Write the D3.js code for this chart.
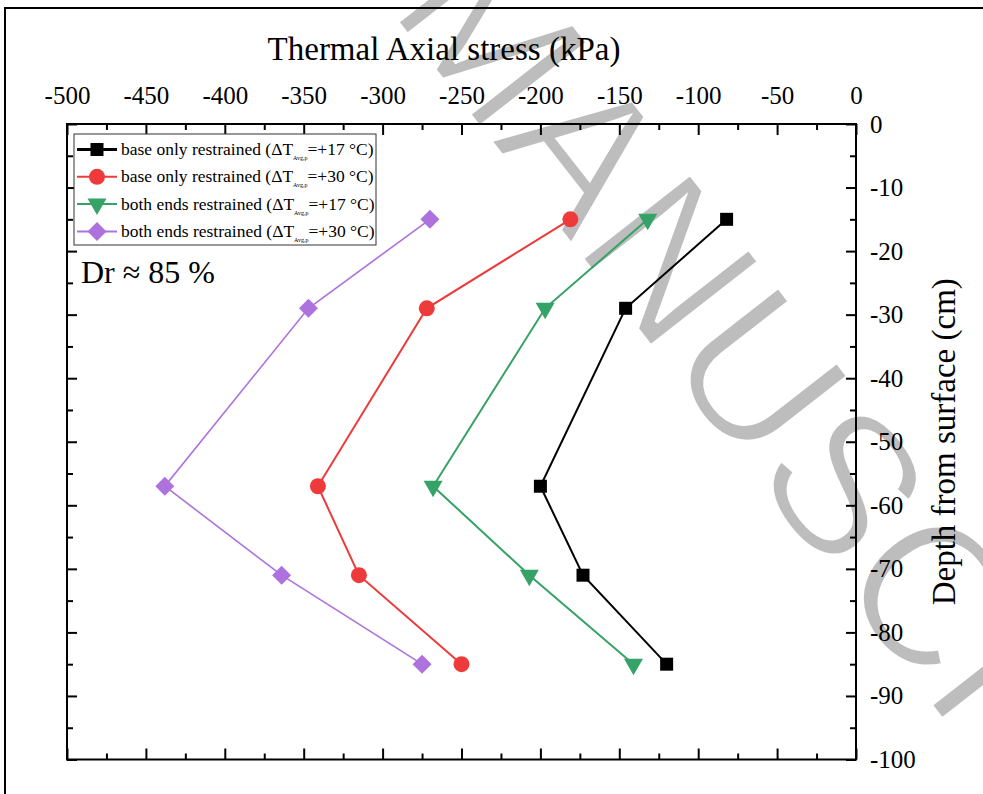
<!DOCTYPE html>
<html>
<head>
<meta charset="utf-8">
<script src="https://cdn.jsdelivr.net/npm/d3@7"></script>
<style>
  html, body { margin: 0; padding: 0; background: #fff; }
  svg { display: block; }
  text { font-family: "Liberation Serif", "Times New Roman", serif; fill: #000; }
</style>
</head>
<body>
<svg id="chart" width="983" height="794"></svg>
<script>
// Depth of each gauge below the surface (cm)
const depths = [-15, -29, -57, -71, -85];

// Thermal axial stress (kPa) at each depth
const baseOnly17 = [-82, -146, -200, -173, -120];
const baseOnly30 = [-181, -272, -341, -315, -250];
const bothEnds17 = [-132, -197, -268, -207, -141];
const bothEnds30 = [-270, -347, -438, -364, -275];

const seriesLabels = [
  ["base only restrained (ΔT", "=+17 °C)"],
  ["base only restrained (ΔT", "=+30 °C)"],
  ["both ends restrained (ΔT", "=+17 °C)"],
  ["both ends restrained (ΔT", "=+30 °C)"]
];
const seriesColors = ["#000000", "#ee3a3a", "#35a267", "#ad72de"];

const xTicks = d3.range(-500, 1, 50);
const yTicks = d3.range(0, -101, -10);

const svg = d3.select("#chart");

// Watermark lettering behind the plot (white outline thins the glyph strokes)
svg.append("g").attr("transform", "translate(387,9) rotate(52)")
  .append("text")
  .attr("x", 0).attr("y", 0)
  .style("font-family", "'Liberation Sans', Arial, sans-serif")
  .style("font-size", "200px")
  .style("fill", "#bdbdbd")
  .style("stroke", "#fff")
  .style("stroke-width", "4px")
  .text("MANUSCRIPT");

// Outer figure border
svg.append("rect")
  .attr("x", 5).attr("y", 8).attr("width", 1100).attr("height", 1100)
  .attr("fill", "none").attr("stroke", "#000").attr("stroke-width", 2);

const x = d3.scaleLinear().domain([-500, 0]).range([67, 856]);
const y = d3.scaleLinear().domain([0, -100]).range([124, 759.5]);

const plotLeft = x.range()[0], plotRight = x.range()[1];
const plotTop = y.range()[0], plotBottom = y.range()[1];

const plainNum = d => String(d);

function styleAxis(g) {
  g.select(".domain").remove();
  g.selectAll(".tick line").attr("stroke", "#000").attr("stroke-width", 2);
  g.selectAll(".tick text")
    .style("font-family", "'Liberation Serif', 'Times New Roman', serif")
    .style("font-size", "25px")
    .attr("fill", "#000");
}

const xMinor = d3.range(-475, 0, 50);
const yMinor = d3.range(-5, -100, -10);

// Top axis: labels and inward ticks
svg.append("g").attr("transform", `translate(0,${plotTop})`)
  .call(d3.axisTop(x).tickValues(xTicks).tickSize(-11).tickPadding(20).tickFormat(plainNum))
  .call(styleAxis);
svg.append("g").attr("transform", `translate(0,${plotTop})`)
  .call(d3.axisTop(x).tickValues(xMinor).tickSize(-6).tickFormat(""))
  .call(styleAxis);

// Bottom axis: ticks only
svg.append("g").attr("transform", `translate(0,${plotBottom})`)
  .call(d3.axisBottom(x).tickValues(xTicks).tickSize(-11).tickFormat(""))
  .call(styleAxis);
svg.append("g").attr("transform", `translate(0,${plotBottom})`)
  .call(d3.axisBottom(x).tickValues(xMinor).tickSize(-6).tickFormat(""))
  .call(styleAxis);

// Right axis: labels and inward ticks
svg.append("g").attr("transform", `translate(${plotRight},0)`)
  .call(d3.axisRight(y).tickValues(yTicks).tickSize(-10).tickPadding(14).tickFormat(plainNum))
  .call(styleAxis);
svg.append("g").attr("transform", `translate(${plotRight},0)`)
  .call(d3.axisRight(y).tickValues(yMinor).tickSize(-6).tickFormat(""))
  .call(styleAxis);

// Left axis: ticks only
svg.append("g").attr("transform", `translate(${plotLeft},0)`)
  .call(d3.axisLeft(y).tickValues(yTicks).tickSize(-10).tickFormat(""))
  .call(styleAxis);
svg.append("g").attr("transform", `translate(${plotLeft},0)`)
  .call(d3.axisLeft(y).tickValues(yMinor).tickSize(-6).tickFormat(""))
  .call(styleAxis);

// Plot frame
svg.append("rect")
  .attr("x", plotLeft).attr("y", plotTop)
  .attr("width", plotRight - plotLeft).attr("height", plotBottom - plotTop)
  .attr("fill", "none").attr("stroke", "#000").attr("stroke-width", 2);

// Axis titles
svg.append("text")
  .attr("x", 444).attr("y", 60)
  .attr("text-anchor", "middle")
  .style("font-size", "33px")
  .text("Thermal Axial stress (kPa)");

svg.append("text")
  .attr("transform", `translate(955,${(plotTop + plotBottom) / 2}) rotate(-90)`)
  .attr("text-anchor", "middle")
  .style("font-size", "33px")
  .text("Depth from surface (cm)");

// Marker shapes: square, circle, down-pointing triangle, diamond
const markers = [
  { type: d3.symbolSquare, size: 169, rot: 0 },
  { type: d3.symbolCircle, size: 200, rot: 0 },
  { type: d3.symbolTriangle, size: 156, rot: 180 },
  { type: d3.symbolSquare, size: 180, rot: 45 }
];

const allSeries = [baseOnly17, baseOnly30, bothEnds17, bothEnds30];
const line = d3.line().x(d => x(d[0])).y(d => y(d[1]));

allSeries.forEach((vals, i) => {
  const pts = vals.map((v, j) => [v, depths[j]]);
  svg.append("path")
    .datum(pts)
    .attr("d", line)
    .attr("fill", "none")
    .attr("stroke", seriesColors[i])
    .attr("stroke-width", i === 3 ? 1.6 : 2);
  const m = markers[i];
  const sym = d3.symbol().type(m.type).size(m.size);
  svg.append("g").selectAll("path")
    .data(pts)
    .join("path")
    .attr("d", sym)
    .attr("transform", d => `translate(${x(d[0])},${y(d[1])}) rotate(${m.rot})`)
    .attr("fill", seriesColors[i]);
});

// Legend
const legend = svg.append("g");
legend.append("rect")
  .attr("x", 74).attr("y", 134).attr("width", 302).attr("height", 111)
  .attr("fill", "#fff").attr("stroke", "#333").attr("stroke-width", 1);

seriesLabels.forEach((lab, i) => {
  const cy = 149.5 + i * 27.3;
  legend.append("line")
    .attr("x1", 77).attr("x2", 117).attr("y1", cy).attr("y2", cy)
    .attr("stroke", seriesColors[i]).attr("stroke-width", i === 0 ? 3 : 2);
  const m = markers[i];
  legend.append("path")
    .attr("d", d3.symbol().type(m.type).size(m.size))
    .attr("transform", `translate(97,${cy}) rotate(${m.rot})`)
    .attr("fill", seriesColors[i]);
  const t = legend.append("text")
    .attr("x", 121).attr("y", cy + 5.5)
    .style("font-size", "17.5px");
  t.append("tspan").text(lab[0]);
  t.append("tspan").attr("dy", 5).style("font-size", "6px").text("Avg,p");
  t.append("tspan").attr("dy", -5).text(lab[1]);
});

// Relative density annotation
svg.append("text")
  .attr("x", 81).attr("y", 283)
  .style("font-size", "32px")
  .text("Dr ≈ 85 %");
</script>
</body>
</html>
